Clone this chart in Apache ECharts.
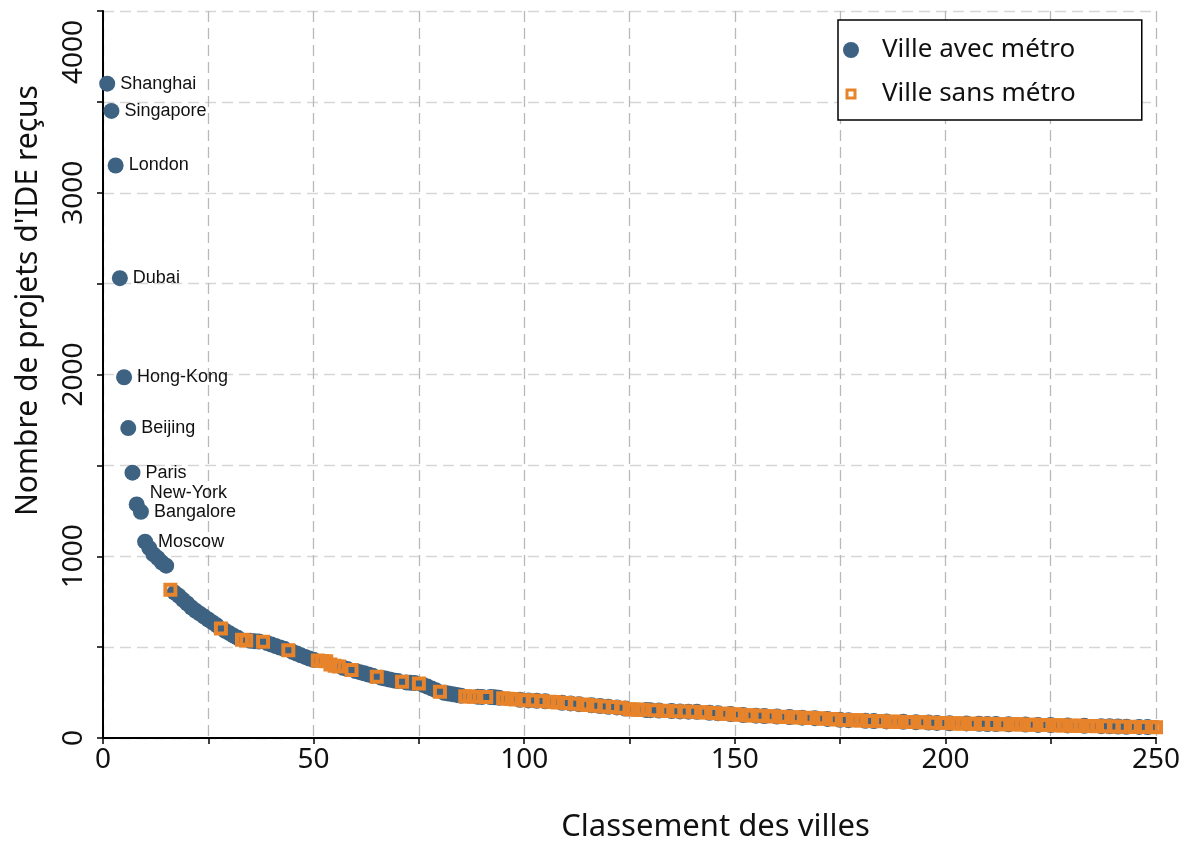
<!DOCTYPE html>
<html>
<head>
<meta charset="utf-8">
<script src="https://cdn.jsdelivr.net/npm/echarts@6/dist/echarts.min.js"></script>
<style>
html,body{margin:0;padding:0;background:#fff;}
#chart{width:1184px;height:843px;}
</style>
</head>
<body>
<div id="chart"></div>
<script>
// ---- data ----
const seriesNames = ['Ville avec métro', 'Ville sans métro'];
const axisTitles = { x: 'Classement des villes', y: "Nombre de projets d'IDE reçus" };
const cityNames = ['Shanghai','Singapore','London','Dubai','Hong-Kong','Beijing','Paris','New-York','Bangalore','Moscow'];
// value of each city by rank (rank = index + 1)
const values = [
  3600,3450,3150,2530,1985,1705,1460,1285,1245,1080,
  1045,1010,990,965,948,815,800,782,760,740,
  718,700,684,668,652,636,620,602,590,577,
  563,551,540,537,535,533,531,529,522,514,
  506,498,491,483,474,465,455,446,437,430,
  426,424,422,405,398,394,386,380,374,368,
  362,356,349,343,337,332,327,322,317,313,
  309,306,304,302,300,292,283,273,263,254,
  249,245,241,237,233,230,228,227,227,226,
  226,225,224,222,219,216,214,212,210,208,
  207,206,205,204,202,200,198,196,194,192,
  190,188,186,184,182,180,178,176,174,172,
  170,168,166,162,158,157,156,155,154,153,
  152,151,150,149,148,147,146,146,145,145,
  144,142,140,139,137,136,134,133,132,130,
  128,126,125,124,123,122,121,120,119,118,
  117,116,115,114,113,112,111,110,109,108,
  106,105,104,102,100,99,98,97,97,96,
  95,94,93,93,92,91,90,90,89,89,
  88,88,87,86,86,85,84,83,82,82,
  81,81,80,80,80,79,79,78,78,77,
  77,77,76,76,75,75,75,74,74,73,
  73,72,72,71,71,70,70,69,69,68,
  68,67,67,66,66,65,65,64,64,63,
  63,62,62,62,61,61,60,60,60,59
];
// ranks of cities without metro
const noMetroRanks = [
  16,28,33,34,38,44,51,52,53,54,55,56,59,65,71,75,80,86,87,88,91,
  95,96,97,98,100,102,104,106,107,108,110,112,114,115,117,119,121,123,125,126,127,128,
  131,133,134,136,138,140,142,143,145,147,148,150,151,153,154,156,158,159,161,162,164,165,
  167,168,170,171,173,174,176,178,179,180,182,184,185,187,188,189,191,192,194,195,197,199,
  200,202,203,204,206,207,209,211,213,214,216,217,218,220,221,223,224,226,227,228,230,231,
  232,234,235,236,238,240,242,244,245,247,249,250
];
const xTicks = { min: 0, max: 250, step: 25, labelEvery: 50 };
const yTicks = { min: 0, max: 4000, step: 500, labelEvery: 1000 };

// ---- build ----
const BLUE = '#3d6282';
const ORANGE = '#e6832b';
const noMetroSet = new Set(noMetroRanks);
const metroData = [];
const noMetroData = [];
values.forEach((v, i) => {
  const rank = i + 1;
  if (noMetroSet.has(rank)) {
    noMetroData.push([rank, v]);
  } else {
    const item = { value: [rank, v] };
    if (i < cityNames.length) {
      item.name = cityNames[i];
      item.label = { show: true };
      if (cityNames[i] === 'New-York') item.label.offset = [0, -11];
    }
    metroData.push(item);
  }
});

const chart = echarts.init(document.getElementById('chart'), null, { renderer: 'canvas' });
const tickFont = { fontFamily: 'Noto Sans', fontSize: 28, color: '#111' };
chart.setOption({
  animation: false,
  backgroundColor: '#fff',
  grid: { left: 103, right: 28, top: 11, bottom: 105, containLabel: false, outerBoundsMode: 'none' },
  legend: {
    left: 838, top: 20,
    orient: 'vertical',
    backgroundColor: '#fff',
    borderColor: '#000', borderWidth: 1.5, borderRadius: 0,
    padding: [16, 66, 12, 5],
    itemGap: 16,
    itemWidth: 28, itemHeight: 16,
    textStyle: { fontFamily: 'Noto Sans', fontSize: 26, color: '#111', lineHeight: 28, padding: [0, 0, 0, 12] },
    data: [
      { name: seriesNames[0], icon: 'circle', itemStyle: { color: BLUE, borderWidth: 0 } },
      { name: seriesNames[1],
        icon: 'path://M0,0h0.05v0.05h-0.05z M15.95,15.95h0.05v0.05h-0.05z M2.5,2.5H13.5V13.5H2.5Z M5.5,5.5V10.5H10.5V5.5Z',
        itemStyle: { color: ORANGE, borderWidth: 0 } }
    ]
  },
  xAxis: {
    type: 'value', min: xTicks.min, max: xTicks.max, interval: xTicks.step,
    name: axisTitles.x, nameLocation: 'middle', nameGap: 74,
    nameTextStyle: { fontFamily: 'Noto Sans', fontSize: 31, color: '#111', padding: [0, 0, 0, 172] },
    axisLine: { show: true, onZero: false, lineStyle: { color: '#000', width: 2 } },
    axisTick: { show: true, length: 6, lineStyle: { color: '#000', width: 1.5 } },
    axisLabel: Object.assign({ margin: 8, formatter: v => (v % xTicks.labelEvery === 0 ? String(v) : '') }, tickFont),
    splitLine: { show: true, lineStyle: { color: '#b9b9b9', width: 1.3, type: [11, 6] } }
  },
  yAxis: {
    type: 'value', min: yTicks.min, max: yTicks.max, interval: yTicks.step,
    name: axisTitles.y, nameLocation: 'middle', nameGap: 60, nameRotate: 90,
    nameTextStyle: { fontFamily: 'Noto Sans', fontSize: 30, color: '#111', padding: [0, 0, 0, 148] },
    axisLine: { show: true, onZero: false, lineStyle: { color: '#000', width: 2 } },
    axisTick: { show: true, length: 6, lineStyle: { color: '#000', width: 1.5 } },
    axisLabel: Object.assign({
      rotate: 90, margin: 15,
      formatter: v => {
        if (v % yTicks.labelEvery !== 0) return '';
        if (v === yTicks.max) return '{t|' + v + '}';
        return String(v);
      },
      rich: { t: { fontFamily: 'Noto Sans', fontSize: 28, color: '#111', padding: [0, 82, 0, 0] } }
    }, tickFont),
    splitLine: { show: true, lineStyle: { color: '#d6d6d6', width: 1.3, type: [11, 6] } }
  },
  series: [
    {
      name: seriesNames[0], type: 'scatter', symbol: 'circle', symbolSize: 16,
      itemStyle: { color: BLUE, opacity: 1 },
      label: {
        show: false, position: 'right', distance: 5,
        formatter: p => p.name,
        fontFamily: 'Liberation Sans', fontSize: 18, color: '#111'
      },
      emphasis: { disabled: true },
      data: metroData,
      z: 2
    },
    {
      name: seriesNames[1], type: 'scatter',
      symbol: 'path://M0,0H14V14H0Z M4,4V10H10V4Z', symbolSize: 14,
      itemStyle: { color: ORANGE, opacity: 1 },
      emphasis: { disabled: true },
      data: noMetroData,
      z: 3
    }
  ]
});
</script>
</body>
</html>
